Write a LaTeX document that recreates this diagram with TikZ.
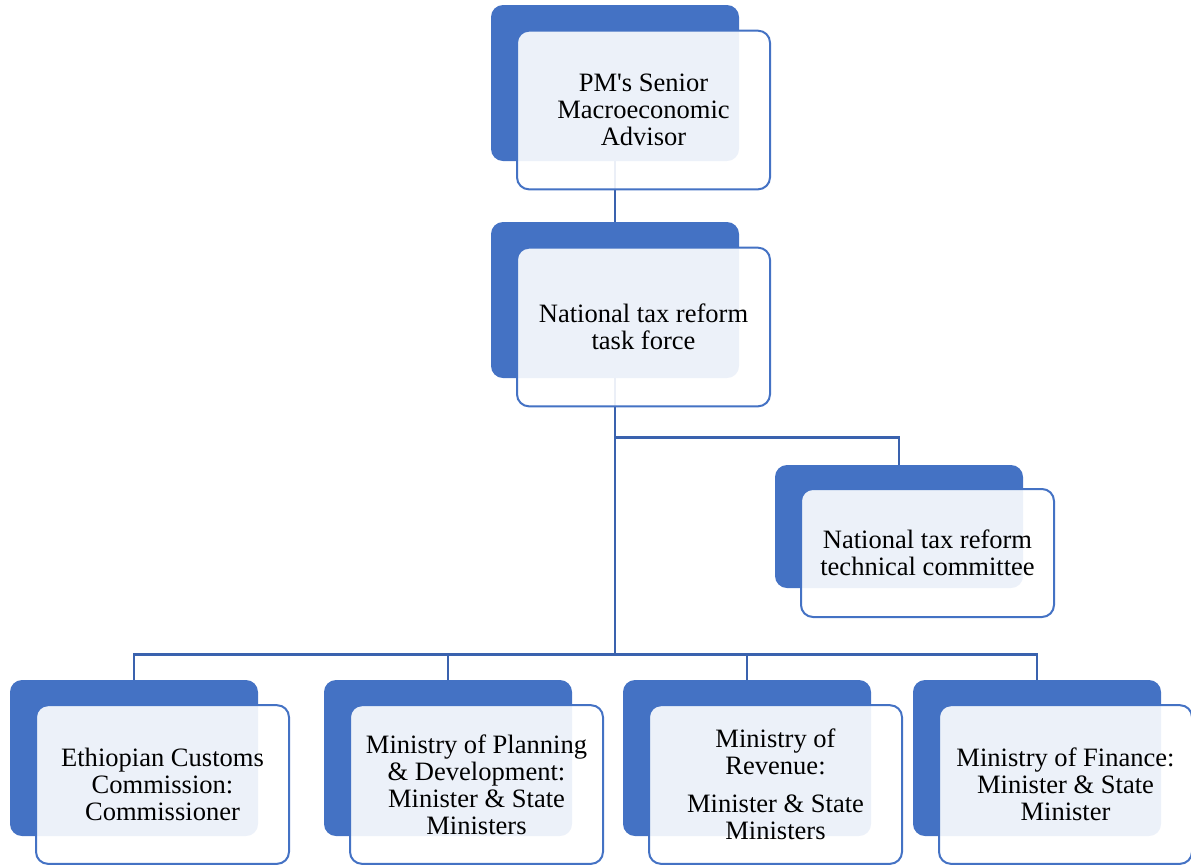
\documentclass[tikz,border=0pt]{standalone}
\usepackage{fontspec}
\setmainfont{Liberation Serif}
\newfontfamily\boxfont{Liberation Serif}
\usetikzlibrary{positioning,backgrounds}
\definecolor{accent}{HTML}{4472C4}
\definecolor{linkblue}{HTML}{3A62AE}

\begin{document}
\begin{tikzpicture}[
  x=0.75pt, y=-0.75pt,
  back/.style={draw=none, fill=accent, rounded corners=9pt,
               minimum width=186pt, minimum height=#1, inner sep=0pt},
  back/.default=117pt,
  front/.style={draw=accent, line width=1.5pt, fill=white,
                fill opacity=0.9, text opacity=1, rounded corners=9pt,
                minimum width=189.75pt, minimum height=#1,
                align=center, inner sep=0pt,
                font=\boxfont\fontsize{19.9}{20.3}\selectfont},
  front/.default=119pt,
  link/.style={draw=linkblue, line width=2pt},
]
\useasboundingbox (0,0) rectangle (1191,865);
%% top: advisor
\node[back] (pmback) at (615,83) {};
\node[front] (pm) at ([shift={(28.5,27)}]pmback.center)
  {PM\textquotesingle s Senior\\Macroeconomic\\Advisor};
%% task force
\node[back] (tfback) at (615,300) {};
\node[front] (tf) at ([shift={(28.5,27)}]tfback.center)
  {National tax reform\\task force};
%% technical committee
\node[back=92.25pt] (tcback) at (899,526.5) {};
\node[front=96pt] (tc) at ([shift={(28.5,26.5)}]tcback.center)
  {National tax reform\\technical committee};
%% bottom row
\node[back] (ecback) at (134,758) {};
\node[front] (ec) at ([shift={(28.5,26.5)}]ecback.center)
  {Ethiopian Customs\\Commission:\\Commissioner};
\node[back] (mpback) at (448,758) {};
\node[front] (mp) at ([shift={(28.5,26.5)}]mpback.center)
  {Ministry of Planning\\\& Development:\\Minister \& State\\Ministers};
\node[back] (mrback) at (747,758) {};
\node[front] (mr) at ([shift={(28.5,26.5)}]mrback.center)
  {Ministry of\\Revenue:\\[8pt]Minister \& State\\Ministers};
\node[back] (mfback) at (1037,758) {};
\node[front] (mf) at ([shift={(28.5,26.5)}]mfback.center)
  {Ministry of Finance:\\Minister \& State\\Minister};
%% connectors behind the boxes
\begin{scope}[on background layer]
  \draw[link] (pmback.south) -- (tfback.north);
  \draw[link] (tfback.south) -- ++(0,59) -| (tcback.north);
  \draw[link] (tfback.south) -- ++(0,276) coordinate (bus);
  \foreach \b in {ecback,mpback,mrback,mfback}
    \draw[link] (bus) -| (\b.north);
\end{scope}
\end{tikzpicture}
\end{document}
